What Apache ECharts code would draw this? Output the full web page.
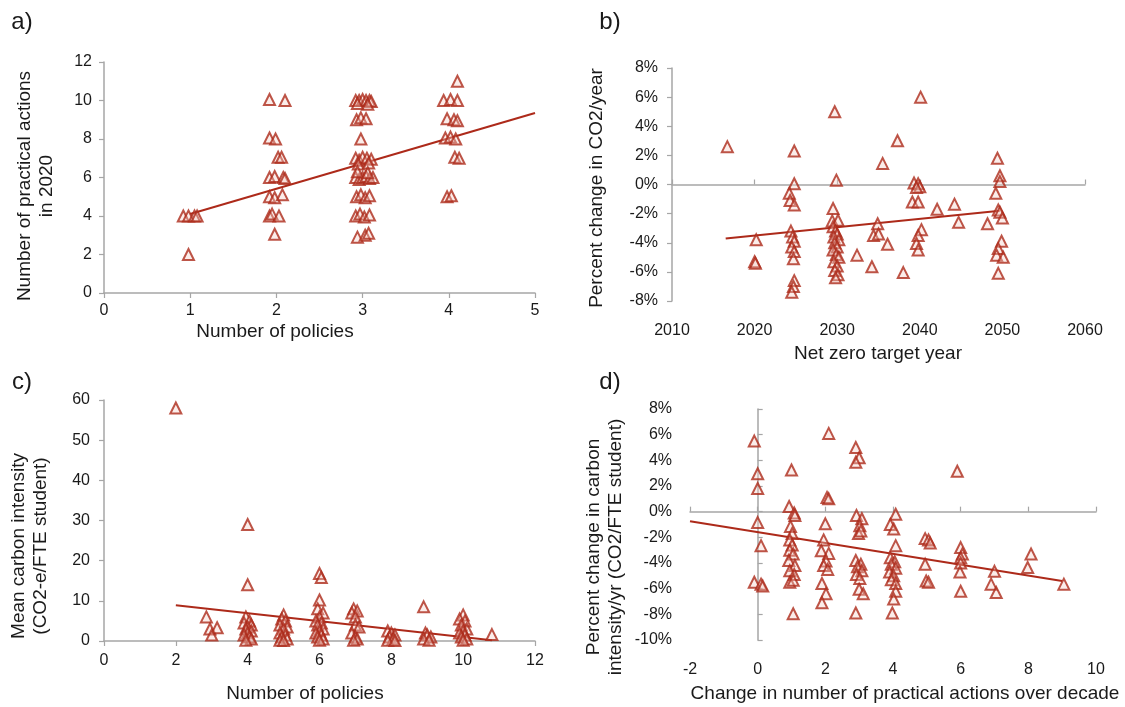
<!DOCTYPE html>
<html><head><meta charset="utf-8">
<script src="https://cdn.jsdelivr.net/npm/echarts@6/dist/echarts.min.js"></script>
<style>html,body{margin:0;padding:0;background:#fff}#c{width:1125px;height:707px}</style>
</head><body><div id="c"></div>
<script>
// ---------- Panel a: Number of policies vs practical actions in 2020 ----------
const aX = [0.92,0.98,1.05,1.08,0.98,
  1.92,2.1, 1.92,1.99, 2.02,2.06, 1.92,1.98,2.08,2.1, 1.92,1.98,2.07, 1.92,1.95,2.03, 1.98,
  2.92,2.96,3.0,3.04,3.08,3.1,2.94,3.06, 2.93,2.98,3.04, 2.98,
  2.92,2.96,3.0,3.05,3.1,2.95,3.07, 2.92,2.96,3.0,3.04,3.08,3.12,2.94,3.06,
  2.93,2.98,3.03,3.08, 2.92,2.97,3.02,3.08, 2.94,3.03,3.07,
  4.1, 3.94,4.02,4.1, 3.98,4.06,4.1, 3.96,4.02,4.08, 4.07,4.12, 3.98,4.03];
const aY = [4,4,4,4,2,
  10.05,10, 8.05,8, 7.05,7.05, 6,6.05,6,5.95, 5,4.95,5.1, 4,4.1,4, 3.05,
  10,10,10.05,10,10,9.95,9.85,9.8, 9,9.1,9.05, 8,
  7,6.9,7.05,7,6.95,6.7,6.75, 6,5.9,6,6.05,5.95,6,6.3,6.25,
  5,5.1,4.95,5.05, 4,4.1,3.95,4.05, 2.9,3,3.1,
  11, 10,10.05,10, 9.05,9,8.95, 8.05,8.1,8, 7.05,7, 5,5.05];
const aTrendX = [1, 5];
const aTrendY = [4.1, 9.35];

// ---------- Panel b: Net zero target year vs percent change in CO2/year ----------
const bX = [2016.7, 2020.2,2020.0,2020.1,
  2024.8,2024.8,2024.2,2024.3,2024.8,2024.4,2024.6,2024.8,2024.5,2024.8,2024.7,2024.8,2024.7,2024.5,
  2029.7,2029.9,2029.5,2029.4,2030.1,2029.5,2029.8,2030.0,2029.6,2030.2,2029.7,2030.0,2029.5,2029.9,2030.2,2029.6,2030.0,2029.7,2030.1,2029.8,
  2032.4,2034.2,2034.9,2034.4,2035.0,2036.1,2035.5,2037.3,2040.1,
  2039.3,2039.8,2040.0,2039.6,2039.1,2039.8,2040.2,2039.8,2039.6,2039.8,
  2038.0,2042.1,2044.2,2044.7,2048.2,
  2049.4,2049.7,2049.7,2049.2,2049.5,2049.7,2050.0,2049.9,2049.5,2049.3,2050.1,2049.5];
const bY = [2.6, -3.8,-5.3,-5.4,
  2.3,0.05,-0.6,-1.1,-1.4,-3.2,-3.6,-3.9,-4.3,-4.6,-5.1,-6.6,-7.0,-7.4,
  5.0,0.3,-1.65,-2.5,-2.45,-2.9,-3.2,-3.4,-3.6,-3.8,-4.0,-4.3,-4.5,-4.8,-5.0,-5.3,-5.6,-5.9,-6.2,-6.4,
  -4.85,-5.65,-2.7,-3.5,-3.4,-4.1,1.45,3.0,6.0,
  0.1,0.05,-0.15,-0.2,-1.2,-1.2,-3.1,-3.5,-4.05,-4.5,
  -6.05,-1.7,-1.35,-2.6,-2.7,
  1.8,0.6,0.2,-0.6,-1.75,-1.9,-2.3,-3.9,-4.4,-4.85,-5.0,-6.1];
const bTrendX = [2016.5, 2049.7];
const bTrendY = [-3.7, -1.8];

// ---------- Panel c: Number of policies vs mean carbon intensity ----------
const cX = [2,4,4,2.85,2.95,3.15,3.0,
  3.95,4.05,3.9,4.1,4.0,3.95,4.1,4.0,3.9,4.05,4.1,3.95,
  5.0,4.95,5.05,4.9,5.1,5.0,4.9,5.05,4.95,5.1,4.9,5.0,
  6.0,6.05,6.0,5.95,6.1,6.0,5.9,6.05,5.95,6.1,6.0,5.9,6.05,5.95,6.1,6.0,
  6.95,7.05,6.9,7.0,7.0,7.1,6.9,7.0,7.05,6.95,
  7.9,8.0,8.1,7.95,8.05,7.9,8.1,
  8.9,8.95,9.0,9.1,8.9,9.05,
  10.0,9.9,10.05,9.95,10.1,10.0,9.9,10.05,9.95,10.1,10.0,
  10.8];
const cY = [58,29,14,6,3,3.3,1.5,
  6,5,4.5,4,3.5,3,2.5,2,1.5,1,0.5,0.2,
  6.5,5.5,5,4,3.5,3,2,1.5,1,0.5,0.2,0.1,
  16.8,15.8,10.2,8,7,6,5,4.5,4,3,2.5,2,1.5,1,0.5,0.2,
  8,7.5,7,6,4,3.5,2,1,0.5,0.2,
  2.5,2,1.5,1,0.5,0.2,0.1,
  8.5,2,1.5,1,0.5,0.2,
  6.5,5.5,5,4,3,2.5,2,1.5,1,0.5,0.2,
  1.6];
const cTrendX = [2, 10.8];
const cTrendY = [8.9, 0.2];

// ---------- Panel d: Change in practical actions vs percent change in carbon intensity ----------
const dX = [-0.1,0,0,0,0.1,-0.1,0.1,0.15,
  1.0,0.93,1.08,1.1,0.97,1.02,0.95,1.02,0.95,1.05,0.92,1.1,0.95,1.08,0.95,1.05,1.05,
  2.1,2.05,2.1,2.0,1.95,1.88,2.1,2.02,1.95,2.07,1.9,2.02,1.9,
  2.9,3.0,2.9,2.92,3.08,3.02,2.98,3.05,2.9,3.05,2.95,3.08,2.92,3.02,3.0,3.12,2.9,
  4.08,3.92,4.02,4.08,3.92,4.05,3.95,4.08,3.9,4.02,3.95,4.08,4.08,4.02,3.98,
  4.95,5.05,5.1,4.95,4.98,5.05,
  5.9,6.0,6.05,6.0,6.0,5.98,6.0,
  7.0,6.9,7.05, 8.08,7.98, 9.05];
const dY = [5.5,2.95,1.8,-0.85,-2.65,-5.5,-5.65,-5.8,
  3.25,0.4,-0.1,-0.3,-1.15,-1.7,-2.2,-2.6,-3.0,-3.3,-3.8,-4.2,-4.6,-4.9,-5.5,-5.35,-7.95,
  6.1,1.1,1.0,-0.95,-2.2,-3.05,-3.25,-3.85,-4.2,-4.5,-5.6,-6.4,-7.1,
  5.0,4.2,3.85,-0.3,-0.55,-1.1,-1.7,-1.5,-3.8,-4.1,-4.3,-4.6,-4.9,-5.2,-6.05,-6.4,-7.9,
  -0.2,-1.0,-1.35,-2.65,-3.6,-3.9,-4.1,-4.4,-4.7,-5.0,-5.3,-5.6,-6.2,-6.8,-7.9,
  -2.1,-2.2,-2.45,-4.1,-5.4,-5.5,
  3.15,-2.8,-3.3,-3.6,-4.0,-4.7,-6.2,
  -4.65,-5.65,-6.3, -3.3,-4.35, -5.65];
const dTrendX = [-2, 9];
const dTrendY = [-0.75, -5.4];

// ---------- styling ----------
const FONT = '"Liberation Sans","Arial",sans-serif';
const RED = '#ad2a1a';
const AXIS = '#a6a6a6';
const TXT = '#1a1a1a';
const zip = (xs, ys) => xs.map((x, i) => [x, ys[i]]);
const plain = (v) => String(v);

const lineAxis = (extra) => Object.assign({
  type: 'value', splitLine: {show: false},
  axisLine: {show: true, onZero: false, lineStyle: {color: AXIS, width: 1.5}},
  axisTick: {show: true, length: 5, lineStyle: {color: AXIS, width: 1.2}},
  axisLabel: {color: TXT, fontFamily: FONT, fontSize: 16}
}, extra);

const scatter = (xi, yi, xs, ys) => ({
  type: 'scatter', xAxisIndex: xi, yAxisIndex: yi, data: zip(xs, ys),
  symbol: 'triangle', symbolSize: 11, z: 3,
  itemStyle: {color: 'rgba(245,205,198,0.45)', borderColor: RED, borderWidth: 2}
});
const trend = (xi, yi, xs, ys) => ({
  type: 'line', xAxisIndex: xi, yAxisIndex: yi, data: zip(xs, ys),
  showSymbol: false, symbol: 'none', z: 2, silent: true,
  lineStyle: {color: RED, width: 2}
});
const title = (text, x, y, rot, size) => ({
  type: 'text', x: x, y: y, rotation: rot ? Math.PI / 2 : 0,
  style: {text: text, fill: TXT, font: size + 'px ' + FONT, align: 'center', verticalAlign: 'middle', lineHeight: size + 3}
});

const chart = echarts.init(document.getElementById('c'), null, {renderer: 'canvas'});
chart.setOption({
  animation: false,
  backgroundColor: '#fff',
  grid: [
    {left: 104, top: 62, width: 431, height: 231, outerBoundsMode: 'none'},
    {left: 672, top: 68, width: 413, height: 233, outerBoundsMode: 'none'},
    {left: 104, top: 400, width: 431, height: 241, outerBoundsMode: 'none'},
    {left: 690, top: 409, width: 406, height: 231, outerBoundsMode: 'none'}
  ],
  xAxis: [
    lineAxis({gridIndex: 0, min: 0, max: 5, interval: 1, axisLabel: {color: TXT, fontFamily: FONT, fontSize: 16, margin: 10}}),
    lineAxis({gridIndex: 1, min: 2010, max: 2060, interval: 10, axisLine: {show: false, onZero: false}, axisTick: {show: false},
      axisLabel: {color: TXT, fontFamily: FONT, fontSize: 16, margin: 22, formatter: plain}}),
    lineAxis({gridIndex: 1, min: 2010, max: 2060, interval: 10, axisLine: {show: true, onZero: true, lineStyle: {color: AXIS, width: 1.5}}, axisLabel: {show: false}}),
    lineAxis({gridIndex: 2, min: 0, max: 12, interval: 2, axisLabel: {color: TXT, fontFamily: FONT, fontSize: 16, margin: 12}}),
    lineAxis({gridIndex: 3, min: -2, max: 10, interval: 2, axisLine: {show: false, onZero: false}, axisTick: {show: false},
      axisLabel: {color: TXT, fontFamily: FONT, fontSize: 16, margin: 22}}),
    lineAxis({gridIndex: 3, min: -2, max: 10, interval: 2, axisLine: {show: true, onZero: true, lineStyle: {color: AXIS, width: 1.5}}, axisLabel: {show: false}})
  ],
  yAxis: [
    lineAxis({gridIndex: 0, min: 0, max: 12, interval: 2, axisLabel: {color: TXT, fontFamily: FONT, fontSize: 16, margin: 12}}),
    lineAxis({gridIndex: 1, min: -8, max: 8, interval: 2, axisLabel: {color: TXT, fontFamily: FONT, fontSize: 16, margin: 14, formatter: '{value}%'}}),
    lineAxis({gridIndex: 2, min: 0, max: 60, interval: 10, axisLabel: {color: TXT, fontFamily: FONT, fontSize: 16, margin: 14}}),
    lineAxis({gridIndex: 3, min: -10, max: 8, interval: 2, axisLine: {show: false, onZero: false}, axisTick: {show: false},
      axisLabel: {color: TXT, fontFamily: FONT, fontSize: 16, margin: 18, formatter: '{value}%'}}),
    lineAxis({gridIndex: 3, min: -10, max: 8, interval: 2, axisLine: {show: true, onZero: true, lineStyle: {color: AXIS, width: 1.5}}, axisLabel: {show: false}})
  ],
  series: [
    trend(0, 0, aTrendX, aTrendY), scatter(0, 0, aX, aY),
    trend(1, 1, bTrendX, bTrendY), scatter(1, 1, bX, bY),
    trend(3, 2, cTrendX, cTrendY), scatter(3, 2, cX, cY),
    trend(4, 3, dTrendX, dTrendY), scatter(4, 3, dX, dY)
  ],
  graphic: [
    title('a)', 22, 22, false, 24),
    title('b)', 610, 22, false, 24),
    title('c)', 22, 382, false, 24),
    title('d)', 610, 382, false, 24),
    title('Number of policies', 275, 332, false, 19),
    title('Net zero target year', 878, 354, false, 19),
    title('Number of policies', 305, 694, false, 19),
    title('Change in number of practical actions over decade', 905, 694, false, 19),
    title('Number of practical actions\nin 2020', 36, 186, true, 19),
    title('Percent change in CO2/year', 597, 188, true, 19),
    title('Mean carbon intensity\n(CO2-e/FTE student)', 30, 546, true, 19),
    title('Percent change in carbon\nintensity/yr (CO2/FTE student)', 605, 547, true, 19)
  ]
});
</script></body></html>
